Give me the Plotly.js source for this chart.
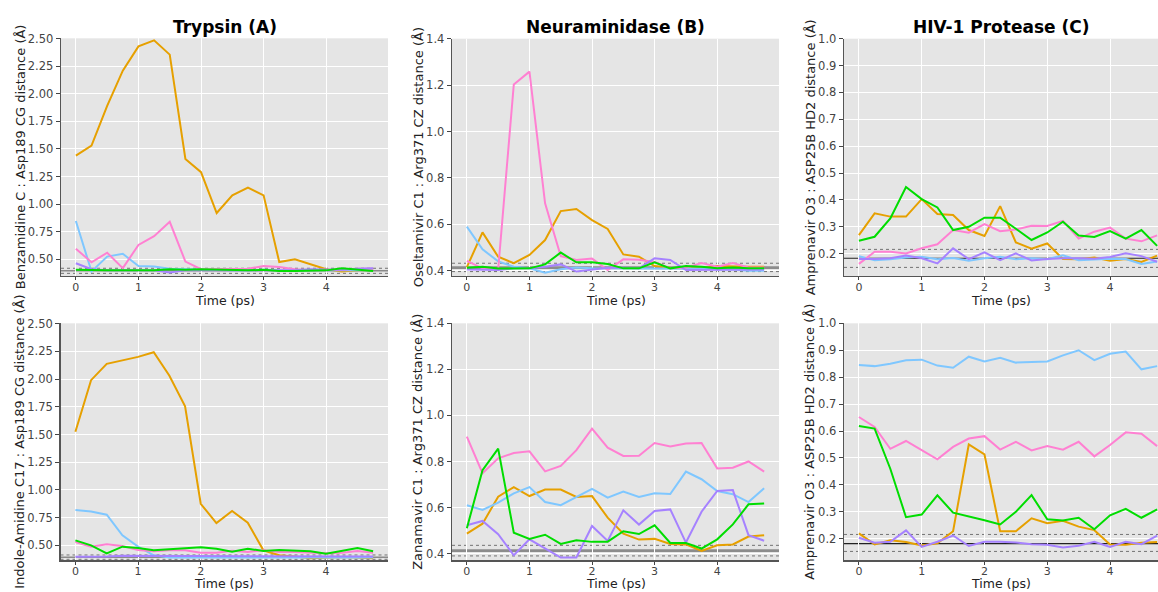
<!DOCTYPE html>
<html>
<head>
<meta charset="utf-8">
<script src="https://cdn.plot.ly/plotly-3.0.1.min.js"></script>
<style>html,body{margin:0;padding:0;background:#fff;overflow:hidden;}#chart{width:1158px;height:592px;}</style>
</head>
<body>
<div id="chart"></div>
<script>
// ---------- DATA ----------
const time = [0,0.25,0.5,0.75,1.0,1.25,1.5,1.75,2.0,2.25,2.5,2.75,3.0,3.25,3.5,3.75,4.0,4.25,4.5,4.75];

const panelTitles = ["Trypsin (A)", "Neuraminidase (B)", "HIV-1 Protease (C)"];
const yTitles = [
  "Benzamidine C : Asp189 CG distance (Å)",
  "Oseltamivir C1 : Arg371 CZ distance (Å)",
  "Amprenavir O3 : ASP25B HD2 distance (Å)",
  "Indole-Amidine C17 : Asp189 CG distance (Å)",
  "Zanamavir C1 : Arg371 CZ distance (Å)",
  "Amprenavir O3 : ASP25B HD2 distance (Å)"
];
const xTitle = "Time (ps)";

// Panel A1 : Trypsin / Benzamidine
const a1_orange = [1.44,1.53,1.89,2.21,2.43,2.485,2.355,1.41,1.29,0.92,1.08,1.15,1.08,0.476,0.50,0.455,0.41,0.39,0.40,0.40];
const a1_blue   = [0.847,0.39,0.525,0.55,0.44,0.435,0.415,0.41,0.405,0.405,0.40,0.40,0.405,0.40,0.40,0.40,0.405,0.40,0.40,0.40];
const a1_pink   = [0.597,0.473,0.56,0.42,0.63,0.71,0.84,0.48,0.41,0.41,0.41,0.415,0.44,0.43,0.41,0.40,0.40,0.41,0.415,0.415];
const a1_purple = [0.465,0.41,0.40,0.40,0.40,0.40,0.38,0.40,0.40,0.40,0.40,0.40,0.40,0.40,0.40,0.41,0.41,0.405,0.415,0.42];
const a1_green  = [0.405,0.40,0.40,0.40,0.40,0.40,0.41,0.405,0.41,0.405,0.40,0.40,0.405,0.395,0.395,0.40,0.40,0.42,0.405,0.395];

// Panel B1 : Neuraminidase / Oseltamivir
const b1_orange = [0.415,0.565,0.46,0.432,0.468,0.532,0.657,0.666,0.618,0.58,0.47,0.46,0.42,0.413,0.41,0.41,0.42,0.417,0.417,0.417];
const b1_blue   = [0.59,0.492,0.44,0.417,0.41,0.391,0.406,0.414,0.41,0.41,0.41,0.41,0.41,0.41,0.41,0.408,0.405,0.405,0.40,0.40];
const b1_pink   = [0.442,0.41,0.405,1.203,1.258,0.69,0.463,0.446,0.452,0.403,0.449,0.447,0.437,0.41,0.413,0.433,0.417,0.433,0.414,0.414];
const b1_purple = [0.405,0.403,0.403,0.41,0.41,0.417,0.427,0.396,0.403,0.413,0.413,0.41,0.453,0.446,0.403,0.403,0.405,0.405,0.405,0.405];
const b1_green  = [0.413,0.417,0.409,0.41,0.41,0.427,0.478,0.436,0.436,0.429,0.41,0.41,0.436,0.41,0.42,0.417,0.41,0.414,0.41,0.41];

// Panel C1 : HIV-1 Protease / Amprenavir
const c1_orange = [0.269,0.35,0.338,0.338,0.403,0.348,0.344,0.288,0.266,0.377,0.242,0.219,0.238,0.180,0.179,0.186,0.174,0.180,0.169,0.193];
const c1_blue   = [0.191,0.176,0.179,0.186,0.189,0.179,0.184,0.174,0.183,0.189,0.179,0.183,0.179,0.194,0.176,0.179,0.181,0.180,0.162,0.171];
const c1_pink   = [0.162,0.207,0.207,0.201,0.22,0.235,0.288,0.278,0.31,0.284,0.29,0.304,0.303,0.322,0.256,0.282,0.297,0.256,0.246,0.268];
const c1_purple = [0.18,0.18,0.183,0.193,0.183,0.164,0.22,0.18,0.205,0.176,0.201,0.175,0.18,0.183,0.183,0.181,0.188,0.202,0.191,0.17];
const c1_green  = [0.248,0.263,0.331,0.448,0.403,0.372,0.288,0.30,0.334,0.334,0.293,0.251,0.279,0.319,0.268,0.262,0.284,0.256,0.288,0.229];

// Panel A2 : Trypsin / Indole-Amidine
const a2_orange = [1.524,1.99,2.137,2.17,2.20,2.242,2.03,1.755,0.875,0.70,0.81,0.704,0.455,0.41,0.40,0.383,0.39,0.395,0.39,0.383];
const a2_blue   = [0.818,0.806,0.776,0.59,0.488,0.41,0.39,0.39,0.39,0.39,0.39,0.39,0.39,0.39,0.39,0.39,0.39,0.39,0.39,0.39];
const a2_pink   = [0.53,0.488,0.509,0.494,0.458,0.446,0.455,0.455,0.434,0.434,0.452,0.44,0.455,0.44,0.44,0.434,0.428,0.434,0.449,0.434];
const a2_purple = [0.398,0.398,0.40,0.405,0.405,0.40,0.40,0.40,0.40,0.402,0.40,0.40,0.40,0.40,0.40,0.40,0.40,0.40,0.40,0.40];
const a2_green  = [0.545,0.50,0.428,0.488,0.476,0.455,0.464,0.47,0.482,0.47,0.443,0.47,0.449,0.458,0.452,0.446,0.425,0.449,0.476,0.446];

// Panel B2 : Neuraminidase / Zanamivir
const b2_orange = [0.487,0.53,0.647,0.689,0.65,0.678,0.678,0.646,0.65,0.556,0.487,0.461,0.464,0.442,0.44,0.412,0.436,0.44,0.474,0.48];
const b2_blue   = [0.61,0.59,0.621,0.662,0.689,0.624,0.61,0.646,0.681,0.643,0.669,0.646,0.662,0.659,0.756,0.723,0.672,0.658,0.624,0.684];
const b2_pink   = [0.908,0.749,0.814,0.837,0.844,0.757,0.781,0.849,0.943,0.86,0.824,0.825,0.88,0.865,0.878,0.88,0.77,0.773,0.80,0.756];
const b2_purple = [0.523,0.542,0.484,0.393,0.462,0.422,0.383,0.383,0.52,0.455,0.588,0.526,0.585,0.592,0.448,0.582,0.672,0.676,0.48,0.456];
const b2_green  = [0.51,0.762,0.856,0.491,0.464,0.482,0.442,0.458,0.451,0.452,0.497,0.485,0.523,0.446,0.446,0.422,0.462,0.527,0.614,0.618];

// Panel C2 : HIV-1 Protease / Amprenavir
const c2_orange = [0.22,0.179,0.194,0.188,0.175,0.183,0.228,0.55,0.513,0.228,0.228,0.276,0.258,0.267,0.245,0.232,0.179,0.178,0.185,0.188];
const c2_blue   = [0.845,0.841,0.85,0.863,0.865,0.843,0.835,0.876,0.858,0.872,0.854,0.855,0.858,0.881,0.90,0.863,0.887,0.895,0.829,0.841];
const c2_pink   = [0.652,0.615,0.534,0.563,0.529,0.495,0.541,0.572,0.581,0.531,0.56,0.528,0.544,0.531,0.56,0.506,0.548,0.595,0.59,0.544];
const c2_purple = [0.204,0.185,0.189,0.231,0.17,0.189,0.212,0.173,0.189,0.189,0.186,0.18,0.178,0.168,0.174,0.189,0.17,0.189,0.18,0.212];
const c2_green  = [0.619,0.609,0.46,0.28,0.29,0.361,0.297,0.284,0.269,0.253,0.30,0.362,0.272,0.268,0.278,0.235,0.287,0.311,0.278,0.309];

// Reference lines per panel: [mean, lower, upper]
const refA1 = [0.397, 0.373, 0.419];
const refB1 = [0.413, 0.396, 0.432];
const refC1 = [0.183, 0.149, 0.216];
const refA2 = [0.393, 0.374, 0.413];
const refB2 = [0.413, 0.390, 0.436];
const refC2 = [0.182, 0.153, 0.216];

// y-axis ranges and ticks
const yRanges = [[0.349,2.503],[0.377,1.4],[0.117,1.0],[0.365,2.503],[0.371,1.4],[0.12,1.0]];
const yTicks = [
  [0.5,0.75,1.0,1.25,1.5,1.75,2.0,2.25,2.5],
  [0.4,0.6,0.8,1.0,1.2,1.4],
  [0.2,0.3,0.4,0.5,0.6,0.7,0.8,0.9,1.0],
  [0.5,0.75,1.0,1.25,1.5,1.75,2.0,2.25,2.5],
  [0.4,0.6,0.8,1.0,1.2,1.4],
  [0.2,0.3,0.4,0.5,0.6,0.7,0.8,0.9,1.0]
];
const yTickFormats = [".2f",".1f",".1f",".2f",".1f",".1f"];
const xTicks = [0,1,2,3,4];

// ---------- STYLE ----------
const colors = {orange:"#E6A000", blue:"#7FC7FF", pink:"#FF80D2", purple:"#A682FF", green:"#00DD00"};
const refStyles = [
  {color:"#8a8a8a", width:1.6},
  {color:"#8c8c8c", width:2.6},
  {color:"#222222", width:1.2},
  {color:"#8a8a8a", width:1.6},
  {color:"#8c8c8c", width:2.6},
  {color:"#222222", width:1.2}
];

const panels = [
  {d:[a1_orange,a1_blue,a1_pink,a1_purple,a1_green], ref:refA1},
  {d:[b1_orange,b1_blue,b1_pink,b1_purple,b1_green], ref:refB1},
  {d:[c1_orange,c1_blue,c1_pink,c1_purple,c1_green], ref:refC1},
  {d:[a2_orange,a2_blue,a2_pink,a2_purple,a2_green], ref:refA2},
  {d:[b2_orange,b2_blue,b2_pink,b2_purple,b2_green], ref:refB2},
  {d:[c2_orange,c2_blue,c2_pink,c2_purple,c2_green], ref:refC2}
];
const seriesColors = [colors.orange, colors.blue, colors.pink, colors.purple, colors.green];
const seriesNames = ["orange","blue","pink","purple","green"];

const W = 1158, H = 592;
// pixel boxes [left, right, top, bottom]
const boxes = [
  [61,388,38.3,276],[452,779,38.7,276],[844,1158,38.7,276],
  [60.5,388,323.3,560.3],[452,779,323.3,560.3],[844,1158,323.3,560.3]
];
const xRanges = [
  [-0.2375,4.9875],[-0.2375,4.9875],[-0.2375,4.764],
  [-0.2375,4.9875],[-0.2375,4.9875],[-0.2375,4.764]
];

const traces = [];
const shapes = [];
const annotations = [];
const layout = {
  width: W, height: H,
  margin: {l:0, r:0, t:0, b:0},
  paper_bgcolor: "#ffffff",
  plot_bgcolor: "#e5e5e5",
  showlegend: false,
  font: {family: "DejaVu Sans, sans-serif", size: 11, color: "#444"}
};

panels.forEach((p, i) => {
  const n = i + 1;
  const xa = n === 1 ? "x" : "x" + n;
  const ya = n === 1 ? "y" : "y" + n;
  const b = boxes[i];
  const bottomRow = i >= 3;
  p.d.forEach((vals, k) => {
    traces.push({
      x: time, y: vals, xaxis: xa, yaxis: ya,
      type: "scatter", mode: "lines", name: seriesNames[k],
      line: {color: seriesColors[k], width: 2},
      hoverinfo: "x+y"
    });
  });
  layout["xaxis" + (n === 1 ? "" : n)] = {
    domain: [b[0] / W, b[1] / W],
    anchor: ya,
    range: xRanges[i],
    tickvals: xTicks,
    ticks: "outside", ticklen: 3, tickwidth: 1, tickcolor: "#444",
    ticklabelstandoff: -3,
    showgrid: true, gridcolor: "#ffffff", gridwidth: 1,
    zeroline: false,
    showline: true, linecolor: "#555", linewidth: 1.3,
    tickfont: {size: 11, color: "#444"}
  };
  layout["yaxis" + (n === 1 ? "" : n)] = {
    domain: [1 - b[3] / H, 1 - b[2] / H],
    anchor: xa,
    range: yRanges[i],
    tickvals: yTicks[i],
    tickformat: yTickFormats[i],
    ticks: "outside", ticklen: 4, tickwidth: 1, tickcolor: "#444",
    showgrid: true, gridcolor: "#ffffff", gridwidth: 1,
    zeroline: false,
    showline: true, linecolor: "#555", linewidth: 1.3,
    tickfont: {size: 11.5, color: "#444"}
  };
  // reference lines
  const xd = xa + " domain";
  shapes.push({type:"line", xref:xd, yref:ya, x0:0, x1:1, y0:p.ref[0], y1:p.ref[0], layer:"below",
               line:{color:refStyles[i].color, width:refStyles[i].width}});
  [p.ref[1], p.ref[2]].forEach(v => {
    shapes.push({type:"line", xref:xd, yref:ya, x0:0, x1:1, y0:v, y1:v, layer:"below",
                 line:{color:"#555555", width:0.8, dash:"dot"}});
  });
  // titles
  const cx = ((b[0] + Math.min(b[1], i % 3 === 2 ? 1172 : b[1])) / 2) / W;
  const cy = (b[2] + b[3]) / 2;
  if (i < 3) {
    annotations.push({text: "<b>" + panelTitles[i] + "</b>", xref:"paper", yref:"paper",
      x: cx, y: 1 - 27 / H, xanchor:"center", yanchor:"middle", showarrow:false,
      font:{size:17, color:"#000", family:"DejaVu Sans, sans-serif"}});
  }
  annotations.push({text: xTitle, xref:"paper", yref:"paper",
    x: cx, y: bottomRow ? 0 : 1 - (b[3] + 33) / H, xanchor:"center", yanchor:"bottom", showarrow:false,
    borderpad: 0,
    font:{size:12.5, color:"#222"}});
  const ytx = [20, 418, 810][i % 3];
  annotations.push({text: yTitles[i], xref:"paper", yref:"paper",
    x: ytx / W, y: 1 - cy / H, xanchor:"center", yanchor:"middle", showarrow:false,
    textangle: -90, font:{size:13, color:"#222"}});
});

layout.shapes = shapes;
layout.annotations = annotations;

Plotly.newPlot("chart", traces, layout, {displayModeBar:false, staticPlot:true});
</script>
</body>
</html>
